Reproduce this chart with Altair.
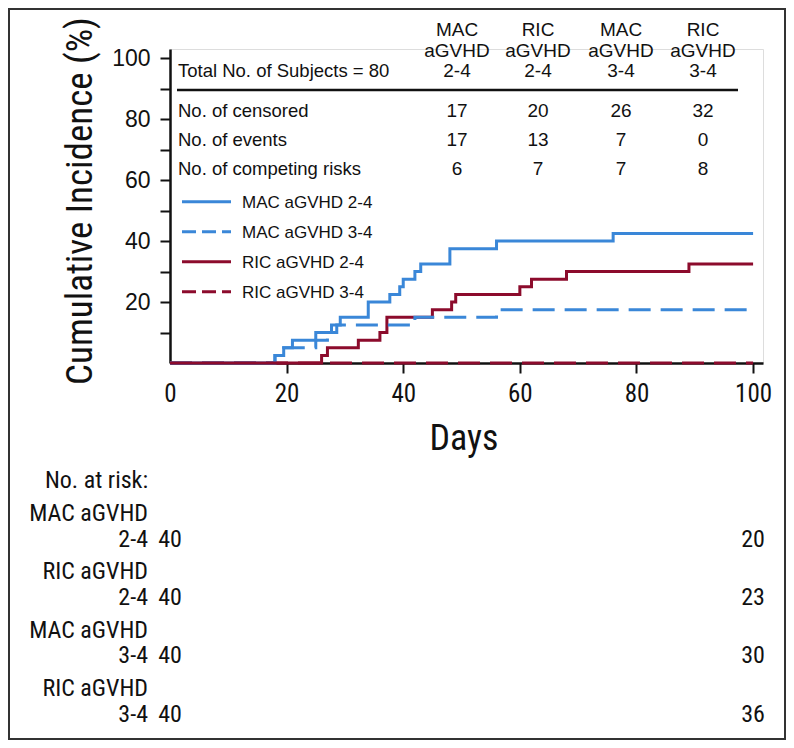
import altair as alt
import pandas as pd

# ---------------- data ----------------
mac24_days = [0, 18, 19.5, 21, 25, 27.7, 29.2, 34, 37.7, 39.4, 40, 42, 43, 48, 56, 76, 100]
mac24_pct = [0, 2.5, 5, 7.5, 10, 12.5, 15, 20, 22.5, 25, 27.5, 30, 32.5, 37.5, 40, 42.5, 42.5]

mac34_days = [0, 18, 19.5, 25, 27, 28.6, 42, 56, 100]
mac34_pct = [0, 2.5, 5, 7.5, 10, 12.5, 15, 17.5, 17.5]

ric24_days = [0, 26, 27, 32.3, 36, 37.2, 45, 48.3, 49, 60, 62, 68, 89, 100]
ric24_pct = [0, 2.5, 5, 7.5, 10, 15, 17.5, 20, 22.5, 25, 27.5, 30, 32.5, 32.5]

ric34_days = [0, 100]
ric34_pct = [0, 0]

series_names = ["MAC aGVHD 2-4", "MAC aGVHD 3-4", "RIC aGVHD 2-4", "RIC aGVHD 3-4"]

total_subjects = 80
col_headers = [["MAC", "aGVHD", "2-4"], ["RIC", "aGVHD", "2-4"],
               ["MAC", "aGVHD", "3-4"], ["RIC", "aGVHD", "3-4"]]
row_labels = ["No. of censored", "No. of events", "No. of competing risks"]
censored = [17, 20, 26, 32]
events = [17, 13, 7, 0]
competing = [6, 7, 7, 8]

risk_names = [["MAC aGVHD", "2-4"], ["RIC aGVHD", "2-4"], ["MAC aGVHD", "3-4"], ["RIC aGVHD", "3-4"]]
risk_days = [0, 100]
risk_counts = [[40, 20], [40, 23], [40, 30], [40, 36]]

x_ticks = [0, 20, 40, 60, 80, 100]
y_ticks = [10, 20, 30, 40, 50, 60, 70, 80, 90, 100]

# ---------------- styling / layout ----------------
BLUE = "#3a87d8"
RED = "#8c0b2c"
INK = "#111111"
REG = "Liberation Sans, Arial, Helvetica, sans-serif"
NARROW = "Roboto Condensed, Noto Sans Condensed, Liberation Sans Narrow, DejaVu Sans Condensed, Liberation Sans, sans-serif"

OX, OY = 170, 49          # reference pixel of plot top-left
W, H = 593, 314
SVG_W, SVG_H = 778, 732
PAD = {"left": OX - 8, "top": OY - 8, "right": SVG_W - (OX - 8) - W, "bottom": SVG_H - (OY - 8) - H}

dummy = pd.DataFrame({"a": [0]})

xs = alt.Scale(domain=[0, 101.7], nice=False, zero=False)
ys = alt.Scale(domain=[0, 103], nice=False, zero=False)


def txt(s, X, Y, size, font=REG, align="left", baseline="alphabetic", angle=0):
    props = dict(text=s, align=align, baseline=baseline, fontSize=size, font=font, color=INK)
    if angle:
        props["angle"] = angle
    return alt.Chart(dummy).mark_text(**props).encode(x=alt.value(X - OX), y=alt.value(Y - OY))


def curve(days, pct, color, dash=None):
    df = pd.DataFrame({"day": days, "pct": pct})
    kw = dict(interpolate="step-after", strokeWidth=3, color=color, strokeCap="butt")
    if dash:
        kw["strokeDash"] = dash
    return alt.Chart(df).mark_line(**kw).encode(
        x=alt.X("day:Q", scale=xs,
                axis=alt.Axis(values=x_ticks, title=None, grid=False, labelFont=NARROW,
                              labelFontSize=25, labelColor=INK, labelPadding=8,
                              tickSize=10, tickWidth=2, tickColor=INK,
                              tickOpacity={"condition": {"test": "datum.value === 0", "value": 0}, "value": 1},
                              domainColor=INK, domainWidth=2.5, labelFlush=False)),
        y=alt.Y("pct:Q", scale=ys,
                axis=alt.Axis(values=y_ticks, title=None, grid=False, labelFont=REG,
                              labelFontSize=23, labelColor=INK, labelPadding=10,
                              labelExpr="datum.value % 20 === 0 ? datum.label : ''",
                              tickSize=10, tickWidth=2, tickColor=INK,
                              domainColor=INK, domainWidth=2.5, labelFlush=False)),
    )


layers = []
# curves
layers.append(curve(mac24_days, mac24_pct, BLUE))
layers.append(curve(ric24_days, ric24_pct, RED))
layers.append(curve(mac34_days, mac34_pct, BLUE, [22, 10]))
layers.append(curve(ric34_days, ric34_pct, RED, [22, 10]))

# axis titles
layers.append(txt("Cumulative Incidence (%)", 92, 201, 37, NARROW, align="center", angle=270))
layers.append(txt("Days", 464, 450, 36, NARROW, align="center"))

# summary table
col_x = [457, 538, 621, 703]
head_y = [35.5, 56.7, 77.3]
for cx, hdr in zip(col_x, col_headers):
    for hy, line in zip(head_y, hdr):
        layers.append(txt(line, cx, hy, 19, align="center"))
layers.append(txt(f"Total No. of Subjects = {total_subjects}", 178, 77.3, 18.5))
layers.append(alt.Chart(dummy).mark_rule(color=INK, strokeWidth=2.5).encode(
    x=alt.value(177 - OX), x2=alt.value(738 - OX), y=alt.value(90 - OY)))
row_y = [116.5, 145.5, 174.5]
for ry, lab, vals in zip(row_y, row_labels, [censored, events, competing]):
    layers.append(txt(lab, 178, ry, 18.5))
    for cx, v in zip(col_x, vals):
        layers.append(txt(str(v), cx, ry, 19, align="center"))

# legend
leg_styles = [(BLUE, None), (BLUE, [14, 6]), (RED, None), (RED, [14, 6])]
for i, (name, (col, dsh)) in enumerate(zip(series_names, leg_styles)):
    ly = 201.7 + 30 * i
    kw = dict(color=col, strokeWidth=3, strokeCap="butt")
    if dsh:
        kw["strokeDash"] = dsh
    layers.append(alt.Chart(dummy).mark_rule(**kw).encode(
        x=alt.value(182 - OX), x2=alt.value(231 - OX), y=alt.value(ly - OY)))
    layers.append(txt(name, 242, ly + 6.2, 17))

# number at risk
RS = 24
layers.append(txt("No. at risk:", 148, 488, RS, NARROW, align="right"))
for g, (nm, counts) in enumerate(zip(risk_names, risk_counts)):
    by = 520.7 + 58.4 * g
    layers.append(txt(nm[0], 148, by, RS, NARROW, align="right"))
    layers.append(txt(nm[1], 148, by + 25.8, RS, NARROW, align="right"))
    rdf = pd.DataFrame({"day": risk_days, "n": counts})
    layers.append(alt.Chart(rdf).mark_text(font=NARROW, fontSize=RS, color=INK, align="center",
                                           baseline="alphabetic").encode(
        x=alt.X("day:Q", scale=xs), y=alt.value(by + 25.8 - OY), text="n:Q"))

# frame
layers.append(alt.Chart(dummy).mark_rect(fillOpacity=0, stroke="#333333", strokeWidth=2).encode(
    x=alt.value(1 - PAD["left"]), x2=alt.value(SVG_W - 1 - PAD["left"]),
    y=alt.value(1 - PAD["top"]), y2=alt.value(SVG_H - 1 - PAD["top"])))

chart = alt.layer(*layers).properties(
    width=W, height=H,
    autosize=alt.AutoSizeParams(type="none"),
    padding=PAD,
).configure_view(stroke=None).configure(background="white")

chart.save("out.html", embed_options={"renderer": "svg", "actions": False})
